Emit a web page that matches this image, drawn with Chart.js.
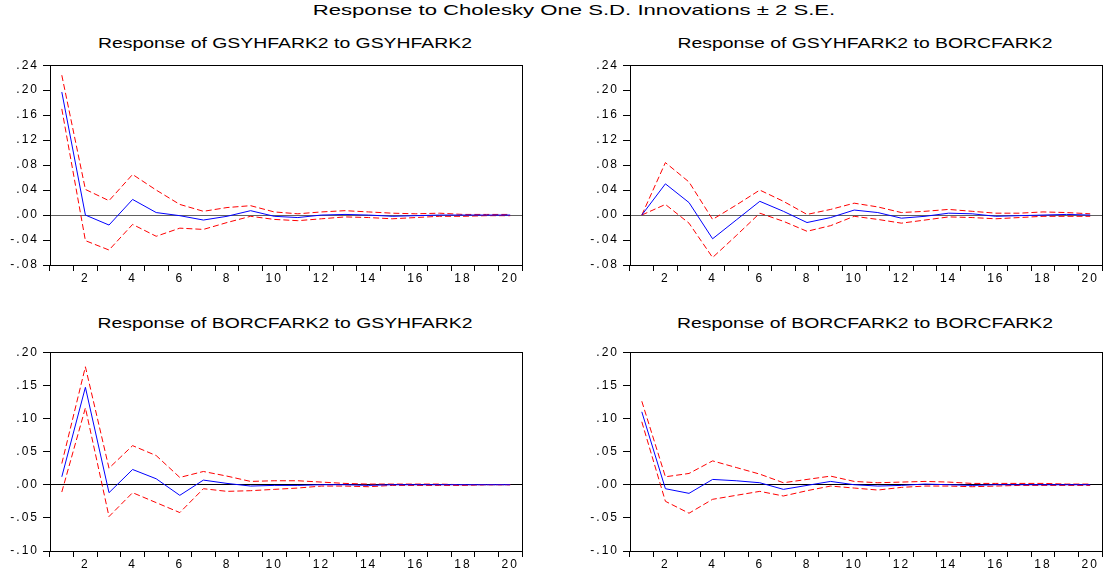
<!DOCTYPE html>
<html>
<head>
<meta charset="utf-8">
<script src="https://cdn.jsdelivr.net/npm/chart.js@4.4.0/dist/chart.umd.min.js"></script>
<style>
  body { margin: 0; background: #fff; }
  #page { position: relative; width: 1109px; height: 576px; overflow: hidden;
          font-family: "Liberation Sans", Arial, sans-serif; color: #000; }
  canvas { position: absolute; }
  .ttl { position: absolute; text-align: center; white-space: nowrap; line-height: 1; }
  #mainTitle { left: 274px; top: 2px; width: 600px; font-size: 15px; transform: scaleX(1.475); }
  .sub { width: 400px; font-size: 14px; transform: scaleX(1.385); }
</style>
</head>
<body>
<div id="page">
  <div id="mainTitle" class="ttl">Response to Cholesky One S.D. Innovations ± 2 S.E.</div>
  <div class="ttl sub" style="left:85px; top:36px;">Response of GSYHFARK2 to GSYHFARK2</div>
  <div class="ttl sub" style="left:665px; top:36px;">Response of GSYHFARK2 to BORCFARK2</div>
  <div class="ttl sub" style="left:85px; top:316px;">Response of BORCFARK2 to GSYHFARK2</div>
  <div class="ttl sub" style="left:665px; top:316px;">Response of BORCFARK2 to BORCFARK2</div>
  <canvas id="c1" width="526" height="241" style="left:0px; top:54px;"></canvas>
  <canvas id="c2" width="526" height="241" style="left:580px; top:54px;"></canvas>
  <canvas id="c3" width="526" height="240" style="left:0px; top:341px;"></canvas>
  <canvas id="c4" width="526" height="240" style="left:580px; top:341px;"></canvas>
</div>
<script>
// periods
const periods = ['1','2','3','4','5','6','7','8','9','10','11','12','13','14','15','16','17','18','19','20'];

// y tick labels
const yTicksTop = [-0.08, -0.04, 0.00, 0.04, 0.08, 0.12, 0.16, 0.20, 0.24];
const yTicksBottom = [-0.10, -0.05, 0.00, 0.05, 0.10, 0.15, 0.20];

// Response of GSYHFARK2 to GSYHFARK2
const gg = [0.197, 0.000, -0.016, 0.025, 0.004, -0.001, -0.008, -0.002, 0.007, -0.002, -0.004, 0.000, 0.001, 0.000, -0.002, -0.001, 0.000, 0.000, 0.000, 0.000];
const ggUp = [0.224, 0.041, 0.023, 0.065, 0.040, 0.017, 0.006, 0.012, 0.015, 0.005, 0.002, 0.005, 0.007, 0.005, 0.003, 0.002, 0.003, 0.001, 0.001, 0.001];
const ggLo = [0.170, -0.041, -0.056, -0.015, -0.034, -0.021, -0.023, -0.012, -0.002, -0.007, -0.009, -0.006, -0.003, -0.004, -0.006, -0.004, -0.002, -0.002, -0.001, -0.001];

// Response of GSYHFARK2 to BORCFARK2
const gb = [0.000, 0.050, 0.020, -0.038, -0.008, 0.022, 0.006, -0.012, -0.004, 0.008, 0.004, -0.005, -0.002, 0.003, 0.002, -0.002, -0.001, 0.000, 0.001, 0.000];
const gbUp = [0.000, 0.084, 0.053, -0.007, 0.016, 0.040, 0.022, 0.001, 0.009, 0.019, 0.013, 0.004, 0.006, 0.009, 0.006, 0.003, 0.003, 0.005, 0.004, 0.002];
const gbLo = [0.000, 0.017, -0.013, -0.068, -0.033, 0.003, -0.010, -0.026, -0.017, -0.002, -0.007, -0.013, -0.008, -0.003, -0.004, -0.006, -0.004, -0.002, -0.002, -0.002];

// Response of BORCFARK2 to GSYHFARK2
const bg = [0.012, 0.147, -0.012, 0.023, 0.009, -0.016, 0.007, 0.002, -0.002, -0.001, -0.001, 0.000, 0.000, -0.001, 0.000, 0.000, 0.000, 0.000, 0.000, 0.000];
const bgUp = [0.032, 0.178, 0.025, 0.059, 0.044, 0.011, 0.020, 0.013, 0.005, 0.006, 0.006, 0.004, 0.002, 0.001, 0.001, 0.001, 0.001, 0.000, 0.000, 0.000];
const bgLo = [-0.011, 0.116, -0.048, -0.012, -0.027, -0.042, -0.006, -0.010, -0.009, -0.007, -0.005, -0.002, -0.002, -0.003, -0.001, -0.001, -0.001, -0.001, 0.000, 0.000];

// Response of BORCFARK2 to BORCFARK2
const bb = [0.110, -0.006, -0.013, 0.008, 0.006, 0.003, -0.007, -0.001, 0.005, 0.000, -0.002, -0.001, 0.001, 0.000, -0.001, 0.000, 0.000, 0.000, 0.000, 0.000];
const bbUp = [0.126, 0.012, 0.017, 0.036, 0.026, 0.016, 0.003, 0.008, 0.013, 0.005, 0.003, 0.004, 0.005, 0.004, 0.002, 0.002, 0.002, 0.002, 0.001, 0.001];
const bbLo = [0.095, -0.025, -0.043, -0.022, -0.016, -0.010, -0.017, -0.009, -0.002, -0.005, -0.008, -0.004, -0.002, -0.002, -0.003, -0.002, -0.001, -0.001, -0.001, -0.001];

const tickFont = { family: '"Liberation Sans", Arial, sans-serif', size: 12 };

// wide-looking labels like the eviews export, plus the box around the plot
const framePlugin = {
  id: 'frame',
  beforeDraw(chart) { chart.ctx.letterSpacing = '2px'; },
  afterDraw(chart) {
    const a = chart.chartArea, ctx = chart.ctx;
    ctx.save();
    ctx.strokeStyle = '#000';
    ctx.lineWidth = 1;
    ctx.strokeRect(Math.round(a.left) + 0.5, Math.round(a.top) + 0.5,
                   Math.round(a.right - a.left), Math.round(a.bottom - a.top));
    ctx.restore();
  }
};

function fmt(v) {
  if (Math.abs(v) < 1e-9) v = 0;
  return v.toFixed(2).replace('0.', '.');
}

function makeChart(id, resp, up, lo, yTicks, zeroColor) {
  new Chart(document.getElementById(id), {
    type: 'line',
    data: {
      labels: periods,
      datasets: [
        { data: resp, borderColor: '#0000ff', borderWidth: 1, pointRadius: 0, tension: 0, fill: false },
        { data: up, borderColor: '#ff0000', borderWidth: 1, borderDash: [6, 3], pointRadius: 0, tension: 0, fill: false },
        { data: lo, borderColor: '#ff0000', borderWidth: 1, borderDash: [6, 3], pointRadius: 0, tension: 0, fill: false }
      ]
    },
    options: {
      responsive: false,
      animation: false,
      devicePixelRatio: 1,
      layout: { padding: { top: 10, right: 4, bottom: 0, left: 0 } },
      plugins: { legend: { display: false }, tooltip: { enabled: false }, title: { display: false } },
      scales: {
        x: {
          type: 'category',
          offset: true,
          border: { display: false },
          grid: { offset: true, drawOnChartArea: false, tickLength: 6, tickColor: '#000', lineWidth: 1 },
          ticks: {
            autoSkip: false, maxRotation: 0, padding: 0, color: '#000', font: tickFont,
            callback: (v, i) => (i % 2 === 1 ? periods[i] : '')
          },
          afterFit: s => { s.height = 30; }
        },
        y: {
          min: yTicks[0],
          max: yTicks[yTicks.length - 1],
          border: { display: false },
          grid: {
            tickLength: 7, tickColor: '#000', lineWidth: 1,
            color: c => (c.tick && Math.abs(c.tick.value) < 1e-9 ? zeroColor : 'rgba(0,0,0,0)')
          },
          ticks: { padding: 4, color: '#000', font: tickFont, callback: v => fmt(v) },
          afterBuildTicks: s => { s.ticks = yTicks.map(v => ({ value: v })); },
          afterFit: s => { s.width = 50; }
        }
      }
    },
    plugins: [framePlugin]
  });
}

makeChart('c1', gg, ggUp, ggLo, yTicksTop, '#606060');
makeChart('c2', gb, gbUp, gbLo, yTicksTop, '#606060');
makeChart('c3', bg, bgUp, bgLo, yTicksBottom, '#000000');
makeChart('c4', bb, bbUp, bbLo, yTicksBottom, '#000000');
</script>
</body>
</html>
